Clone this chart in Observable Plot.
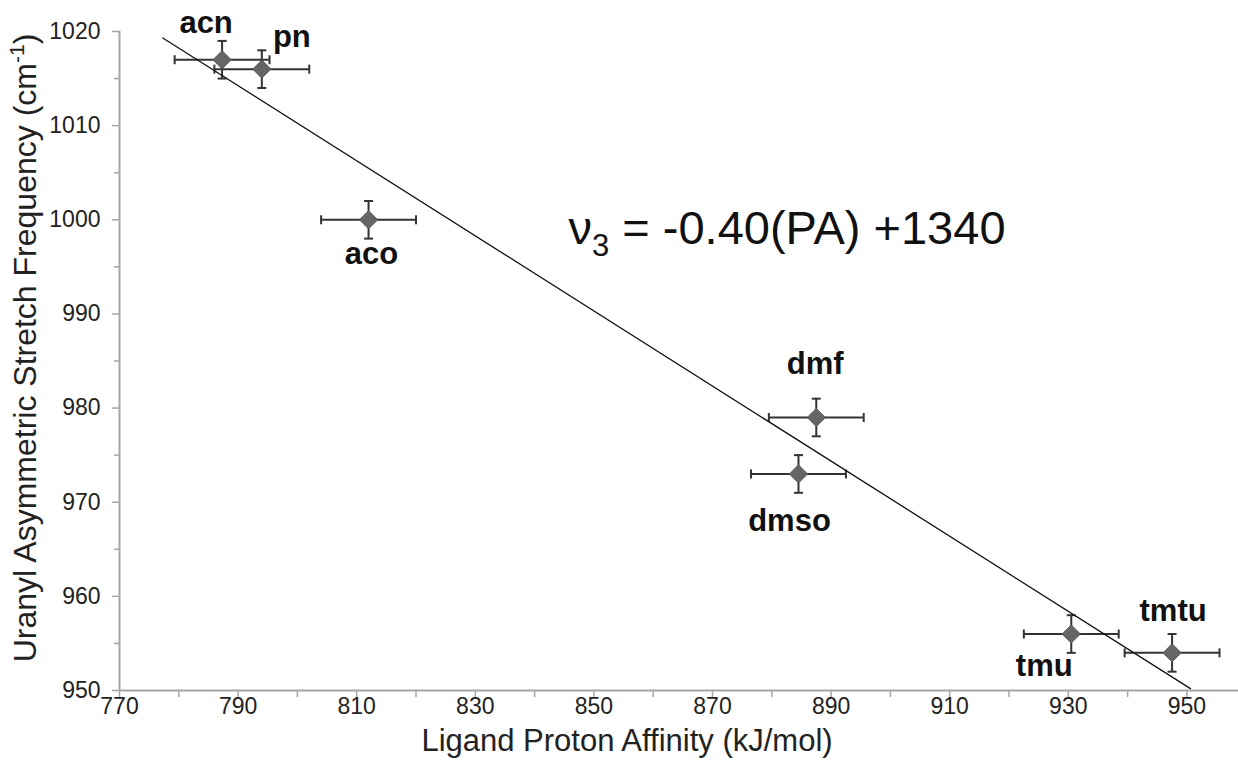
<!DOCTYPE html>
<html><head><meta charset="utf-8">
<script src="https://cdn.jsdelivr.net/npm/d3@7"></script>
<script src="https://cdn.jsdelivr.net/npm/@observablehq/plot@0.6"></script>
<style>body{margin:0;background:#fff}svg{display:block}</style>
</head><body><div id="chart"></div>
<script>
// ---- data ----
const ligands = ["acn", "pn", "aco", "dmf", "dmso", "tmu", "tmtu"];
const protonAffinity = [787.3, 794, 812, 887.5, 884.5, 930.5, 947.5];
const stretchFreq = [1017, 1016, 1000, 979, 973, 956, 954];
const paError = [8, 8, 8, 8, 8, 8, 8];
const freqError = [2, 2, 2, 2, 2, 2, 2];
const xTicks = [770, 790, 810, 830, 850, 870, 890, 910, 930, 950];
const xMinorTicks = [770, 780, 790, 800, 810, 820, 830, 840, 850, 860, 870, 880, 890, 900, 910, 920, 930, 940, 950];
const yTicks = [950, 960, 970, 980, 990, 1000, 1010, 1020];
const yMinorTicks = [955, 965, 975, 985, 995, 1005, 1015];
const trendRange = [777.3, 950.6];
const equationText = "ν3 = -0.40(PA) +1340";
const xTitle = "Ligand Proton Affinity (kJ/mol)";
const yTitle = "Uranyl Asymmetric Stretch Frequency (cm-1)";

// ---- layout / style ----
const labelOffset = {
  acn: [-16, -37], pn: [30, -32], aco: [3, 34], dmf: [-1, -53],
  dmso: [-9, 47], tmu: [-27, 32], tmtu: [1, -42]
};
const axisColor = "#a6a6a6";
const barColor = "#333";

const points = ligands.map((name, i) => ({
  name, pa: protonAffinity[i], freq: stretchFreq[i], paErr: paError[i], freqErr: freqError[i]
}));
const mx = d3.mean(protonAffinity), my = d3.mean(stretchFreq);
const slope = d3.sum(points, p => (p.pa - mx) * (p.freq - my)) / d3.sum(points, p => (p.pa - mx) ** 2);
const intercept = my - slope * mx;
const trend = trendRange.map(x => ({x, y: intercept + slope * x}));

const capV = {draw(ctx) { ctx.moveTo(0, -4.5); ctx.lineTo(0, 4.5); }};
const capH = {draw(ctx) { ctx.moveTo(-4.5, 0); ctx.lineTo(4.5, 0); }};

const chart = Plot.plot({
  width: 1238,
  height: 765,
  marginLeft: 119,
  marginRight: 0,
  marginTop: 31,
  marginBottom: 75,
  style: {fontFamily: "Liberation Sans, Arial, sans-serif", background: "#fff", color: "#222"},
  x: {domain: [770, 958.7]},
  y: {domain: [950, 1020]},
  marks: [
    Plot.axisX({ticks: xMinorTicks, tickSize: 7, tickFormat: () => "", stroke: axisColor, strokeWidth: 1.5, label: null}),
    Plot.axisX({ticks: xTicks, tickSize: 0, tickPadding: 7, fontSize: 23, fill: "#222", tickFormat: d => String(d), label: null}),
    Plot.axisY({ticks: yMinorTicks, tickSize: 5, tickFormat: () => "", stroke: axisColor, strokeWidth: 1.5, label: null}),
    Plot.axisY({ticks: yTicks, tickSize: 7, tickPadding: 12, fontSize: 23, fill: "#222", stroke: axisColor, strokeWidth: 1.5, tickFormat: d => String(d), label: null}),
    Plot.ruleY([950], {stroke: axisColor, strokeWidth: 2}),
    Plot.ruleX([770], {stroke: axisColor, strokeWidth: 2}),
    Plot.ruleY(points, {y: "freq", x1: d => d.pa - d.paErr, x2: d => d.pa + d.paErr, stroke: barColor, strokeWidth: 2}),
    Plot.ruleX(points, {x: "pa", y1: d => d.freq - d.freqErr, y2: d => d.freq + d.freqErr, stroke: barColor, strokeWidth: 2}),
    Plot.dot(points, {x: d => d.pa - d.paErr, y: "freq", symbol: capV, stroke: barColor, strokeWidth: 2, fill: "none"}),
    Plot.dot(points, {x: d => d.pa + d.paErr, y: "freq", symbol: capV, stroke: barColor, strokeWidth: 2, fill: "none"}),
    Plot.dot(points, {x: "pa", y: d => d.freq - d.freqErr, symbol: capH, stroke: barColor, strokeWidth: 2, fill: "none"}),
    Plot.dot(points, {x: "pa", y: d => d.freq + d.freqErr, symbol: capH, stroke: barColor, strokeWidth: 2, fill: "none"}),
    Plot.dot(points, {x: "pa", y: "freq", symbol: "diamond2", r: 8.2, fill: "#666", stroke: "#5a5a5a", strokeWidth: 1}),
    Plot.line(trend, {x: "x", y: "y", stroke: "#111", strokeWidth: 1.3}),
    ...points.map(p => Plot.text([p], {
      x: "pa", y: "freq", text: "name",
      dx: labelOffset[p.name][0], dy: labelOffset[p.name][1],
      fontWeight: "bold", fontSize: 31, fill: "#111", lineAnchor: "middle"
    })),
    Plot.text([equationText], {frameAnchor: "top-left", dx: 449, dy: 197, textAnchor: "start", lineAnchor: "middle", fontSize: 47, fill: "#111"}),
    Plot.text([xTitle], {frameAnchor: "bottom", dx: -52, dy: 51, textAnchor: "middle", lineAnchor: "middle", fontSize: 31, fill: "#222"}),
    Plot.text([yTitle], {frameAnchor: "left", dx: -94, dy: -13, rotate: -90, textAnchor: "middle", lineAnchor: "middle", fontSize: 32, fill: "#222"})
  ]
});
document.getElementById("chart").appendChild(chart);

// superscript / subscript rendering
const NS = "http://www.w3.org/2000/svg";
function rebuild(t, parts) {
  while (t.firstChild) t.removeChild(t.firstChild);
  for (const [txt, attrs] of parts) {
    const s = document.createElementNS(NS, "tspan");
    for (const k in attrs) s.setAttribute(k, attrs[k]);
    s.textContent = txt;
    t.appendChild(s);
  }
}
chart.querySelectorAll("text").forEach(t => {
  if (t.textContent === yTitle) {
    rebuild(t, [["Uranyl Asymmetric Stretch Frequency (cm", {}], ["-1", {dy: -12, "font-size": 21}], [")", {dy: 12}]]);
  } else if (t.textContent === equationText) {
    rebuild(t, [["ν", {}], ["3", {dy: 12, "font-size": 31}], [" = -0.40(PA) +1340", {dy: -12}]]);
  }
});
</script></body></html>
